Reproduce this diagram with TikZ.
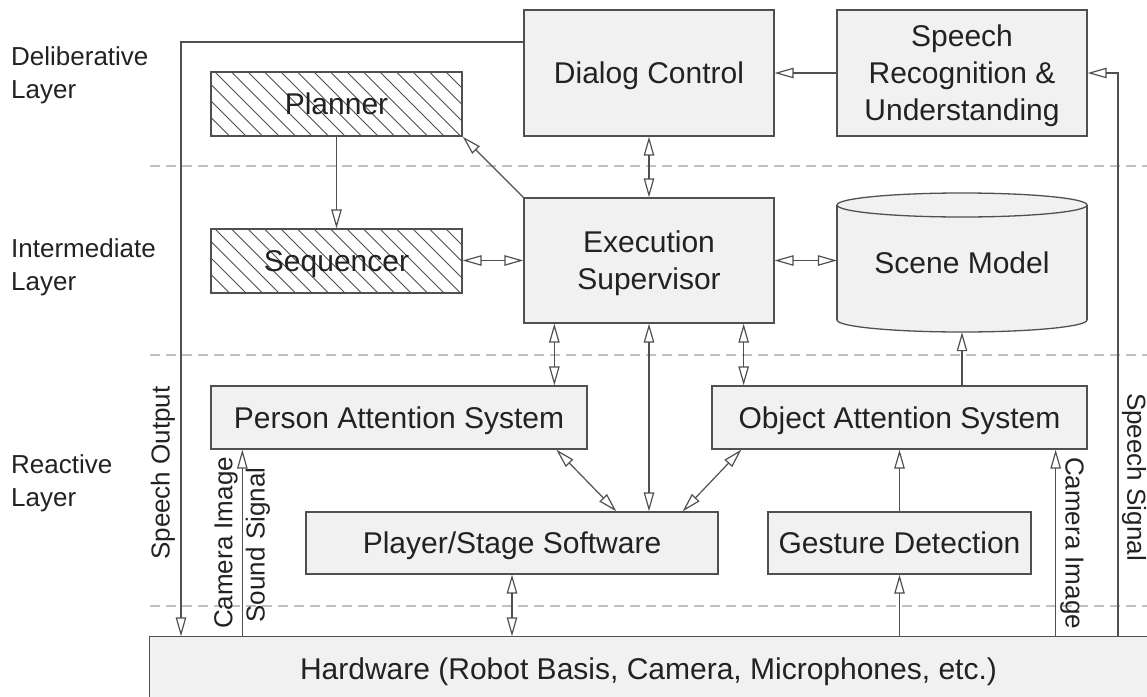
\documentclass[tikz,border=0pt]{standalone}
\usepackage{fontspec}
\setmainfont{Liberation Sans}
\usetikzlibrary{arrows.meta,calc}
\definecolor{boxfill}{HTML}{F1F1F1}
\definecolor{edgec}{HTML}{505050}
\definecolor{txtc}{HTML}{222222}
\definecolor{dashc}{HTML}{C0C0C0}
\newcommand\bxfont{\fontsize{30}{37}\selectfont}
\newcommand\lyfont{\fontsize{26}{33}\selectfont}
\newcommand\lbfont{\fontsize{26}{30}\selectfont}
\begin{document}
\begin{tikzpicture}[x=1pt,y=-1pt,
  >={Triangle[open,length=19pt,width=10.5pt]},
  box/.style={draw=edgec, fill=boxfill, line width=1.3pt, inner sep=0pt, align=center, font=\bxfont, text=txtc, text depth=0pt},
  hatchbox/.style={box, fill=white, path picture={\foreach \i in {0,...,24}{\draw[edgec, line width=0.9pt] ($(path picture bounding box.north west)+(\i*16.5-64,-2)$) -- ++(80,80);}}},
  conn/.style={draw=edgec, line width=1.2pt},
  layer/.style={font=\lyfont, text=txtc, align=left, inner sep=0pt, anchor=north west},
  sig/.style={font=\lbfont, text=txtc, inner sep=0pt},
  sep/.style={draw=dashc, line width=1.3pt, dash pattern=on 10pt off 6pt}
]
\useasboundingbox (0,0) rectangle (1147,696);

% layer separators
\draw[sep] (150,166) -- (1147,166);
\draw[sep] (150,355) -- (1147,355);
\draw[sep] (150,606) -- (1147,606);

% layer labels
\node[layer] (ldel) at (11,46.7) {Deliberative\\Layer};
\node[layer] (lint) at (11,238.7) {Intermediate\\Layer};
\node[layer] (lrea) at (11,454.7) {Reactive\\Layer};

% boxes
\node[box, minimum width=250, minimum height=126] (dialog) at (649,73) {Dialog Control};
\node[box, minimum width=250, minimum height=126] (speech) at (962,73) {Speech\\Recognition \&\\Understanding};
\node[hatchbox, minimum width=251, minimum height=64] (planner) at (336.5,104) {Planner};
\node[hatchbox, minimum width=251, minimum height=64] (seq) at (336.5,261) {Sequencer};
\node[box, minimum width=250, minimum height=125] (es) at (649,260.5) {Execution\\Supervisor};

% scene model cylinder
\fill[boxfill] (837,205) rectangle (1087,320);
\fill[boxfill] (962,320) ellipse [x radius=125, y radius=12];
\begin{scope}
  \clip (820,320) rectangle (1110,345);
  \draw[edgec, line width=1.3pt] (962,320) ellipse [x radius=125, y radius=12];
\end{scope}
\draw[edgec, line width=1.3pt] (837,205) -- (837,320) (1087,205) -- (1087,320);
\draw[edgec, line width=1.3pt, fill=boxfill] (962,205) ellipse [x radius=125, y radius=12];
\node[inner sep=0pt, minimum width=250, minimum height=139, font=\bxfont, text=txtc, text depth=0pt] (scene) at (962,262.5) {Scene Model};

\node[box, minimum width=376, minimum height=63] (pas) at (399,417.5) {Person Attention System};
\node[box, minimum width=375, minimum height=63] (oas) at (899.5,417.5) {Object Attention System};
\node[box, minimum width=412, minimum height=62] (pss) at (512,543) {Player/Stage Software};
\node[box, minimum width=263, minimum height=62] (gd) at (899.5,543) {Gesture Detection};
\node[box, draw=none, minimum width=997, minimum height=63] (hw) at (648.5,668.5) {Hardware (Robot Basis, Camera, Microphones, etc.)};
\draw[conn, line width=1.3pt] (hw.south west) -- (hw.north west) -- (hw.north east);

% connectors
\draw[conn,->] (speech.west) -- (dialog.east);
\draw[conn,<->] (dialog.south) -- (es.north);
\draw[conn,->] (es.north west) -- (planner.south east);
\draw[conn,->] (planner.south) -- (seq.north);
\draw[conn,<->] (es.west) -- (es.west -| seq.east);
\draw[conn,<->] (es.east) -- (es.east -| scene.west);
\draw[conn,->] (scene.south |- oas.north) -- (scene.south);
\coordinate (esl) at ($(es.south west)+(31,0)$);
\coordinate (esr) at ($(es.south east)+(-31,0)$);
\draw[conn,<->] (esl) -- (esl |- pas.north);
\draw[conn,<->] (esr) -- (esr |- oas.north);
\draw[conn,<->] (es.south) -- (es.south |- pss.north);
\draw[conn,<->] ($(pas.south west)+(346,0)$) -- ($(pss.north west)+(311,0)$);
\draw[conn,<->] ($(oas.south west)+(30,0)$) -- ($(pss.north east)+(-36,0)$);
\draw[conn,<->] (pss.south) -- (pss.south |- hw.north);
\draw[conn,->] (gd.north) -- (oas.south);
\draw[conn,->] (gd.south |- hw.north) -- (gd.south);
\coordinate (camr) at ($(oas.south east)+(-32,0)$);
\draw[conn,->] (camr |- hw.north) -- (camr);
\coordinate (caml) at ($(pas.south west)+(32,0)$);
\draw[conn,->] (caml |- hw.north) -- (caml);
\coordinate (so) at (181,42);
\draw[conn,->] (dialog.west |- so) -- (so) -- (so |- hw.north);
\coordinate (ss) at (1118,73);
\draw[conn,->] (ss |- hw.north) -- (ss) -- (speech.east);

% signal labels
\node[sig, rotate=90] (lso) at (163,473) {Speech Output};
\node[sig, rotate=90] (lcam1) at (226,543) {Camera Image};
\node[sig, rotate=90] (lsnd) at (258,545) {Sound Signal};
\node[sig, rotate=-90] (lcam2) at (1072,543) {Camera Image};
\node[sig, rotate=-90] (lss) at (1134,477) {Speech Signal};
\end{tikzpicture}
\end{document}
